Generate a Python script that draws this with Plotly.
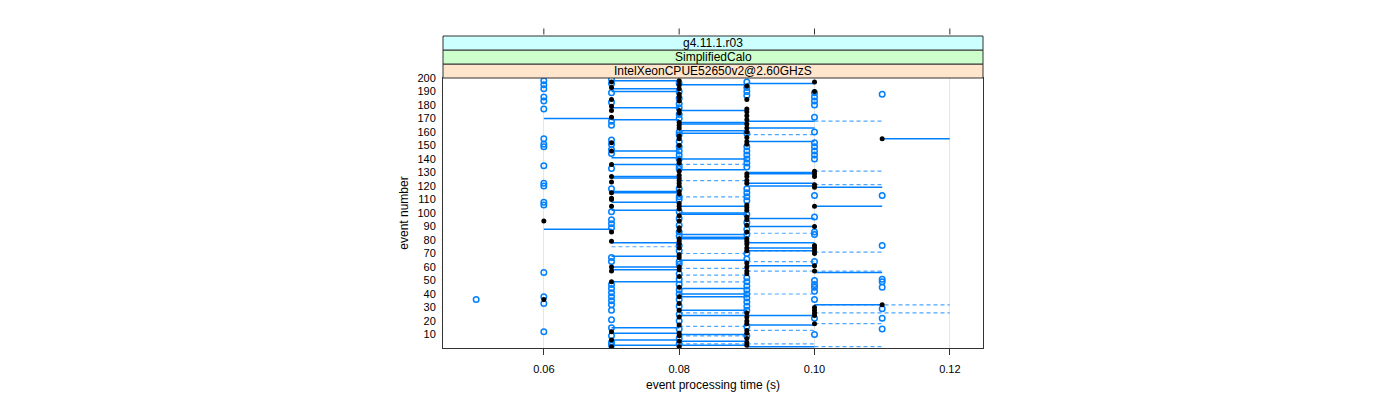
import plotly.graph_objects as go

# ---------------- data ----------------
x_ticks = [0.06, 0.08, 0.10, 0.12]
x_tick_labels = ["0.06", "0.08", "0.10", "0.12"]
y_ticks = list(range(10, 201, 10))
strip_labels = ["IntelXeonCPUE52650v2@2.60GHzS", "SimplifiedCalo", "g4.11.1.r03"]
strip_colors = ["#ffe5cc", "#ccffcc", "#ccffff"]

# open blue circles: event numbers at each processing time
blue_005 = [36]
blue_006 = [198, 195, 192, 186, 183, 177, 155, 151, 149, 135, 122, 120, 108, 106, 56, 38, 33, 12]
blue_007 = [199, 196, 189, 182, 168, 165, 154, 151, 147, 144, 133, 118, 101, 95, 92, 89, 67, 64,
            47, 44, 41, 38, 35, 32, 28, 21, 15, 9, 4, 2]
blue_008 = [196, 190, 185, 181, 178, 173, 170, 160, 158, 153, 149, 146, 143, 140, 135, 133, 118,
            112, 110, 101, 96, 91, 86, 83, 76, 72, 64, 62, 55, 51, 47, 43, 40, 36, 31, 25, 20, 14, 7, 3]
blue_009 = [197, 193, 190, 187, 159, 149, 146, 143, 140, 137, 134, 118, 115, 112, 109, 99, 93, 88,
            84, 70, 66, 52, 49, 46, 43, 40, 37, 34, 31, 28, 16, 9]
blue_010 = [189, 186, 183, 180, 171, 160, 152, 149, 146, 143, 140, 113, 97, 86, 84, 64, 50, 47, 45,
            42, 36, 22, 10]
blue_011 = [188, 113, 76, 51, 49, 45, 29, 22, 14]

# filled black points
black_006 = [94, 36]
black_007 = [197, 193, 184, 179, 176, 171, 152, 146, 136, 127, 123, 115, 111, 110, 105, 86, 79, 60,
             57, 49, 12, 6, 1]
black_008 = [198, 195, 192, 188, 186, 183, 176, 174, 167, 165, 163, 157, 155, 150, 139, 137, 131,
             128, 126, 124, 122, 120, 116, 114, 107, 105, 103, 98, 94, 89, 87, 81, 79, 77, 74, 69,
             67, 60, 58, 53, 45, 38, 33, 28, 23, 17, 11, 9, 5, 1]
black_009 = [194, 184, 177, 175, 172, 169, 166, 163, 160, 156, 153, 151, 129, 127, 124, 122, 106,
             104, 102, 97, 95, 91, 86, 81, 79, 77, 74, 72, 63, 60, 57, 55, 26, 23, 20, 18, 13, 11,
             7, 4, 2]
black_010 = [197, 190, 131, 129, 127, 121, 119, 105, 90, 76, 74, 72, 70, 61, 57, 30, 28, 26, 24, 18]
black_011 = [155, 32]

# horizontal step segments: event numbers for each (from, to) time pair
solid_006_007 = [170, 88]
solid_007_008 = [198, 192, 190, 178, 169, 146, 141, 136, 127, 126, 116, 115, 108, 102, 78, 68, 60,
                 58, 49, 15, 11, 6, 2]
solid_008_009 = [195, 176, 167, 166, 161, 159, 140, 132, 105, 100, 99, 84, 82, 81, 65, 44, 40, 38,
                 28, 24, 10, 5, 2]
solid_009_010 = [196, 168, 163, 153, 130, 129, 122, 120, 96, 90, 78, 74, 72, 61, 24, 17, 1]
solid_010_011 = [119, 105, 56, 32]
solid_011_012 = [155]

dashed_007_008 = [75]
dashed_008_009 = [136, 124, 112, 70, 59, 54, 49, 26, 16, 9, 3]
dashed_009_010 = [158, 85, 72, 64, 57, 40, 13, 3]
dashed_010_011 = [168, 131, 121, 71, 57, 18, 1]
dashed_010_012 = [32, 26]

# ---------------- build ----------------
blue_cols = {0.05: blue_005, 0.06: blue_006, 0.07: blue_007, 0.08: blue_008,
             0.09: blue_009, 0.10: blue_010, 0.11: blue_011}
black_cols = {0.06: black_006, 0.07: black_007, 0.08: black_008, 0.09: black_009,
              0.10: black_010, 0.11: black_011}
solid_sets = [((0.06, 0.07), solid_006_007), ((0.07, 0.08), solid_007_008),
              ((0.08, 0.09), solid_008_009), ((0.09, 0.10), solid_009_010),
              ((0.10, 0.11), solid_010_011), ((0.11, 0.12), solid_011_012)]
dashed_sets = [((0.07, 0.08), dashed_007_008), ((0.08, 0.09), dashed_008_009),
               ((0.09, 0.10), dashed_009_010), ((0.10, 0.11), dashed_010_011),
               ((0.10, 0.12), dashed_010_012)]


def segs(sets):
    xs, ys = [], []
    for (a, b), evs in sets:
        for e in evs:
            xs += [a, b, None]
            ys += [e, e, None]
    return xs, ys


def pts(cols):
    xs, ys = [], []
    for t, evs in cols.items():
        xs += [t] * len(evs)
        ys += evs
    return xs, ys


BLUE = "#0080ff"
FONT = "Liberation Sans, Arial, sans-serif"

fig = go.Figure()
dx, dy = segs(dashed_sets)
fig.add_trace(go.Scatter(x=dx, y=dy, mode="lines", line=dict(color="#4da6ff", width=1.2, dash="4px,3px"),
                         hoverinfo="skip", showlegend=False))
sx, sy = segs(solid_sets)
fig.add_trace(go.Scatter(x=sx, y=sy, mode="lines", line=dict(color=BLUE, width=1.5),
                         hoverinfo="skip", showlegend=False))
bx, by = pts(blue_cols)
fig.add_trace(go.Scatter(x=bx, y=by, mode="markers",
                         marker=dict(symbol="circle-open", size=5.5, color=BLUE, line=dict(width=1.5, color=BLUE)),
                         showlegend=False))
kx, ky = pts(black_cols)
fig.add_trace(go.Scatter(x=kx, y=ky, mode="markers",
                         marker=dict(symbol="circle", size=5, color="black"),
                         showlegend=False))

# figure is placed 8px inside the page (body margin)
W, H = 1384, 384
ML, MR, MT, MB = 435, 409, 70, 44
PH = float(H - MT - MB)  # plot height in px
strip_h = 14.0 / PH
shapes = []
annotations = []
for i, (lab, col) in enumerate(zip(strip_labels, strip_colors)):
    y0 = 1 + i * strip_h
    shapes.append(dict(type="rect", xref="paper", yref="paper", x0=0, x1=1, y0=y0, y1=y0 + strip_h,
                       fillcolor=col, line=dict(color="#333333", width=1), layer="above"))
    annotations.append(dict(text=lab, xref="paper", yref="paper", x=0.5, y=y0 + strip_h / 2,
                            showarrow=False, font=dict(family=FONT, size=12, color="black"),
                            xanchor="center", yanchor="middle"))
# top ticks above the strips
for t in x_ticks:
    shapes.append(dict(type="line", xref="x", yref="paper", x0=t, x1=t,
                       y0=1 + 3 * strip_h + 1.5 / PH, y1=1 + 3 * strip_h + 7.5 / PH,
                       line=dict(color="#333333", width=1)))

fig.update_layout(
    width=W, height=H,
    margin=dict(l=ML, r=MR, t=MT, b=MB, autoexpand=False),
    paper_bgcolor="white", plot_bgcolor="white",
    font=dict(family=FONT, size=11, color="black"),
    shapes=shapes, annotations=annotations,
    xaxis=dict(range=[0.0451, 0.1249], tickvals=x_ticks, ticktext=x_tick_labels,
               ticks="outside", ticklen=6, tickcolor="#333333", automargin=False,
               ticklabelstandoff=5,
               showline=True, mirror=True, linecolor="#333333", linewidth=1,
               showgrid=True, gridcolor="#e6e6e6", gridwidth=1, zeroline=False,
               title=dict(text="event processing time (s)", font=dict(size=12), standoff=6)),
    yaxis=dict(range=[0, 200], tickvals=y_ticks, ticks="", ticklabelstandoff=4,
               showline=True, mirror=True, automargin=False,
               linecolor="#333333", linewidth=1, showgrid=False, zeroline=False,
               title=dict(text="event number", font=dict(size=12), standoff=6)),
)

fig.write_html("out.html")
